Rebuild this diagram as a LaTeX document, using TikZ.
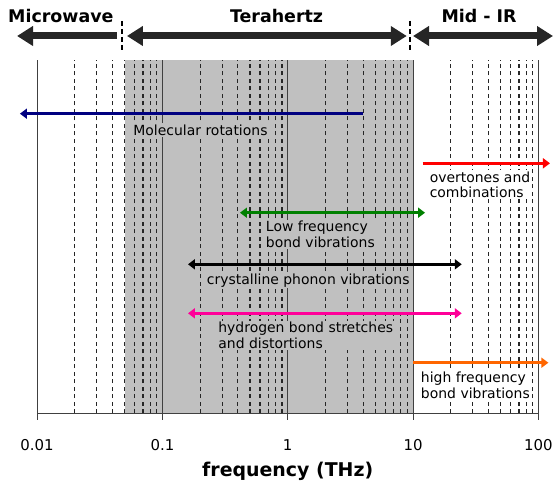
\documentclass[tikz,border=0pt]{standalone}
\usepackage{fontspec}
\setmainfont{DejaVu Sans}
\usetikzlibrary{arrows.meta}

\definecolor{rotblue}{RGB}{0,0,128}
\definecolor{lowgreen}{RGB}{0,128,0}
\definecolor{hbpink}{RGB}{255,0,153}
\definecolor{hforange}{RGB}{255,102,0}
\definecolor{thzgray}{RGB}{192,192,192}

\begin{document}
\begin{tikzpicture}[x=125.3bp, y=1bp,
    gridline/.style={black!85, line width=1.2bp, dash pattern=on 4bp off 3.5bp},
    decade/.style={black!75, line width=1bp},
    rangearrow/.style={line width=3bp},
    bandarrow/.style={black!85, line width=7bp},
    bandsep/.style={black, line width=1.5bp, dash pattern=on 5bp off 3bp},
    bandlbl/.style={font=\fontsize{17.5}{20}\selectfont\bfseries, anchor=base},
    lbl/.style={font=\fontsize{14}{15.5}\selectfont, align=left, anchor=base west, inner sep=1.5bp},
    ticklbl/.style={font=\fontsize{15}{18}\selectfont, anchor=base}]
    \useasboundingbox (-2.296,0) rectangle (2.133,482);

    % terahertz band shading
    \fill[thzgray] (-1.301,69) rectangle (1,422);

    % grid: dashed lines inside each decade, solid at the decades
    \foreach \d in {-2,...,1}
        \foreach \k in {2,...,9}
            \draw[gridline] ({\d+log10(\k)},69) -- ({\d+log10(\k)},422);
    \foreach \d in {-2,...,2}
        \draw[decade] (\d,69) -- (\d,422);

    % axis with ticks and labels
    \draw[decade] (-2,69) -- (2,69);
    \foreach \d/\t in {-2/0.01, -1/0.1, 0/1, 1/10, 2/100} {
        \draw[decade] (\d,69) -- (\d,62);
        \node[ticklbl] (tick\d) at (\d,32) {\t};
    }
    \node[font=\fontsize{19}{22}\selectfont\bfseries, anchor=base] (xlabel) at (0,6) {frequency (THz)};

    % spectral bands on top
    \node[bandlbl, anchor=base west, inner sep=0pt] (mw) at (-2.232,459) {Microwave};
    \node[bandlbl] (thz) at (-0.089,459) {Terahertz};
    \node[bandlbl] (mir) at (1.527,459) {Mid - IR};
    \coordinate (mw-l) at (-2.160,446);
    \coordinate (mw-r) at (-1.362,446);
    \coordinate (thz-l) at (-1.283,446);
    \coordinate (thz-r) at (0.950,446);
    \coordinate (mir-l) at (1.0,446);
    \coordinate (mir-r) at (2.117,446);
    \draw[bandarrow, -{Triangle[length=16bp,width=19bp]}] (mw-r) -- (mw-l);
    \draw[bandarrow, {Triangle[length=16bp,width=19bp]}-{Triangle[length=16bp,width=19bp]}] (thz-l) -- (thz-r);
    \draw[bandarrow, {Triangle[length=16bp,width=19bp]}-{Triangle[length=16bp,width=19bp]}] (mir-l) -- (mir-r);
    \coordinate (sep1-t) at (-1.323,461);
    \coordinate (sep1-b) at (-1.323,430);
    \coordinate (sep2-t) at (0.976,461);
    \coordinate (sep2-b) at (0.976,430);
    \draw[bandsep] (sep1-t) -- (sep1-b);
    \draw[bandsep] (sep2-t) -- (sep2-b);

    % labels of the absorption ranges (base = last line)
    \node[lbl, fill=thzgray] (rot) at (-1.245,347) {Molecular rotations};
    \node[lbl, fill=white] (ovt) at (1.120,284.3) {overtones and\\combinations};
    \node[lbl, fill=thzgray] (lowf) at (-0.187,234.7) {Low frequency\\bond vibrations};
    \node[lbl, fill=thzgray] (cry) at (-0.658,198) {crystalline phonon vibrations};
    \node[lbl, fill=thzgray] (hyd) at (-0.567,133.7) {hydrogen bond stretches\\and distortions};
    \node[lbl, fill=white] (highf) at (1.050,83.7) {high frequency\\bond vibrations};

    % range arrows
    \coordinate (rot-l) at (-2.137,368.3);
    \coordinate (rot-r) at (0.601,368.3);
    \coordinate (ovt-l) at (1.077,318.7);
    \coordinate (ovt-r) at (2.093,318.7);
    \coordinate (lowf-l) at (-0.381,269.3);
    \coordinate (lowf-r) at (1.096,269.3);
    \coordinate (cry-l) at (-0.796,217.7);
    \coordinate (cry-r) at (1.389,217.7);
    \coordinate (hyd-l) at (-0.796,168.7);
    \coordinate (hyd-r) at (1.389,168.7);
    \coordinate (highf-l) at (1.002,119.3);
    \coordinate (highf-r) at (2.080,119.3);
    \draw[rangearrow, rotblue, -{Triangle[length=7bp,width=10bp]}] (rot-r) -- (rot-l);
    \draw[rangearrow, red, -{Triangle[length=7bp,width=10bp]}] (ovt-l) -- (ovt-r);
    \draw[rangearrow, lowgreen, {Triangle[length=7bp,width=10bp]}-{Triangle[length=7bp,width=10bp]}] (lowf-l) -- (lowf-r);
    \draw[rangearrow, black, {Triangle[length=7bp,width=10bp]}-{Triangle[length=7bp,width=10bp]}] (cry-l) -- (cry-r);
    \draw[rangearrow, hbpink, {Triangle[length=7bp,width=10bp]}-{Triangle[length=7bp,width=10bp]}] (hyd-l) -- (hyd-r);
    \draw[rangearrow, hforange, -{Triangle[length=7bp,width=10bp]}] (highf-l) -- (highf-r);
\end{tikzpicture}
\end{document}
